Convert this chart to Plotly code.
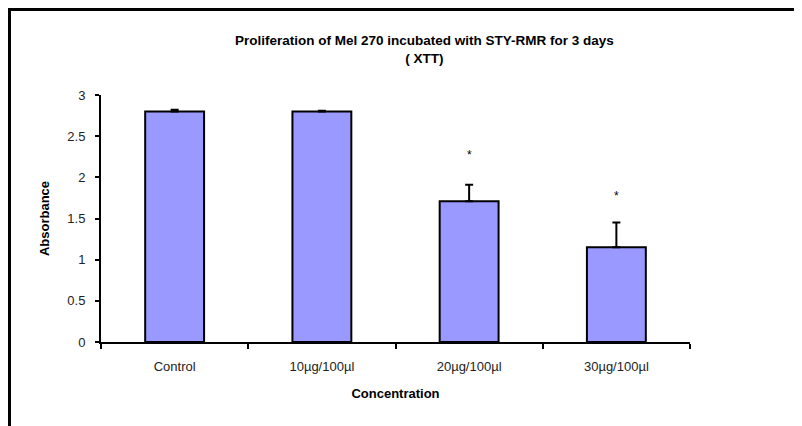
import plotly.graph_objects as go

categories = ["Control", "10µg/100µl", "20µg/100µl", "30µg/100µl"]
absorbance = [2.80, 2.80, 1.71, 1.15]
errors = [0.02, 0.01, 0.20, 0.30]
star_labels = ["", "", "*", "*"]
star_y = [None, None, 2.27, 1.77]
y_ticks = [0, 0.5, 1, 1.5, 2, 2.5, 3]

# page body has an 8px margin, so positions are compensated
OFF = 8
W, H = 802, 426
L, R, T, B = 101 - OFF, 112 + OFF, 95 - OFF, 84 + OFF
pw = W - L - R
ph = H - T - B

fig = go.Figure()
fig.add_trace(go.Bar(
    x=categories, y=absorbance,
    marker=dict(color="#9999FF", line=dict(color="black", width=2)),
    error_y=dict(type="data", array=errors, arrayminus=[0] * 4, symmetric=False,
                 color="black", thickness=2, width=4),
    width=0.4,
))

for c, s, yv in zip(categories, star_labels, star_y):
    if s:
        fig.add_annotation(x=c, y=yv, text=s, showarrow=False,
                           font=dict(size=12, color="black", family="Liberation Sans"))

font = "Liberation Sans, Arial, sans-serif"
fig.add_annotation(
    xref="paper", yref="paper",
    x=(424 - OFF - L) / pw, y=(H - B - (49 - OFF)) / ph, yanchor="middle", xanchor="center",
    text="<b>Proliferation of Mel 270 incubated with STY-RMR for 3 days</b><br><b>( XTT)</b>",
    showarrow=False, font=dict(size=13.5, color="black", family=font),
)

# outer frame (left and top edges visible)
fx = 9.5 - OFF
fy = 9.5 - OFF
fig.add_shape(type="line", xref="paper", yref="paper",
              x0=(fx - L) / pw, x1=(fx - L) / pw,
              y0=(H - B - fy + 1.5) / ph, y1=-(B + 20) / ph,
              line=dict(color="black", width=3))
fig.add_shape(type="line", xref="paper", yref="paper",
              x0=(fx - 1.5 - L) / pw, x1=(W + 20 - L) / pw,
              y0=(H - B - fy) / ph, y1=(H - B - fy) / ph,
              line=dict(color="black", width=3))

fig.update_layout(
    width=W, height=H,
    margin=dict(l=L, r=R, t=T, b=B),
    plot_bgcolor="white", paper_bgcolor="white",
    showlegend=False,
    font=dict(family=font, size=13, color="#222"),
    bargap=0.6,
)
fig.update_xaxes(
    showline=True, linecolor="black", linewidth=2,
    ticks="outside", tickson="boundaries", ticklen=5, tickwidth=2, tickcolor="black",
    showgrid=False, tickfont=dict(size=13, color="#222"), ticklabelstandoff=11,
    title=dict(text="<b>Concentration</b>", font=dict(size=13, color="black"), standoff=16),
)
fig.update_yaxes(
    range=[0, 3], tickvals=y_ticks, ticktext=[f"{v:g}" for v in y_ticks],
    showline=True, linecolor="black", linewidth=2,
    ticks="outside", ticklen=4, tickwidth=2, tickcolor="black",
    showgrid=False, zeroline=False, tickfont=dict(size=13, color="#222"),
    ticklabelstandoff=7,
    title=dict(text="<b>Absorbance</b>", font=dict(size=13, color="black"), standoff=15),
)

fig.write_html("out.html")
